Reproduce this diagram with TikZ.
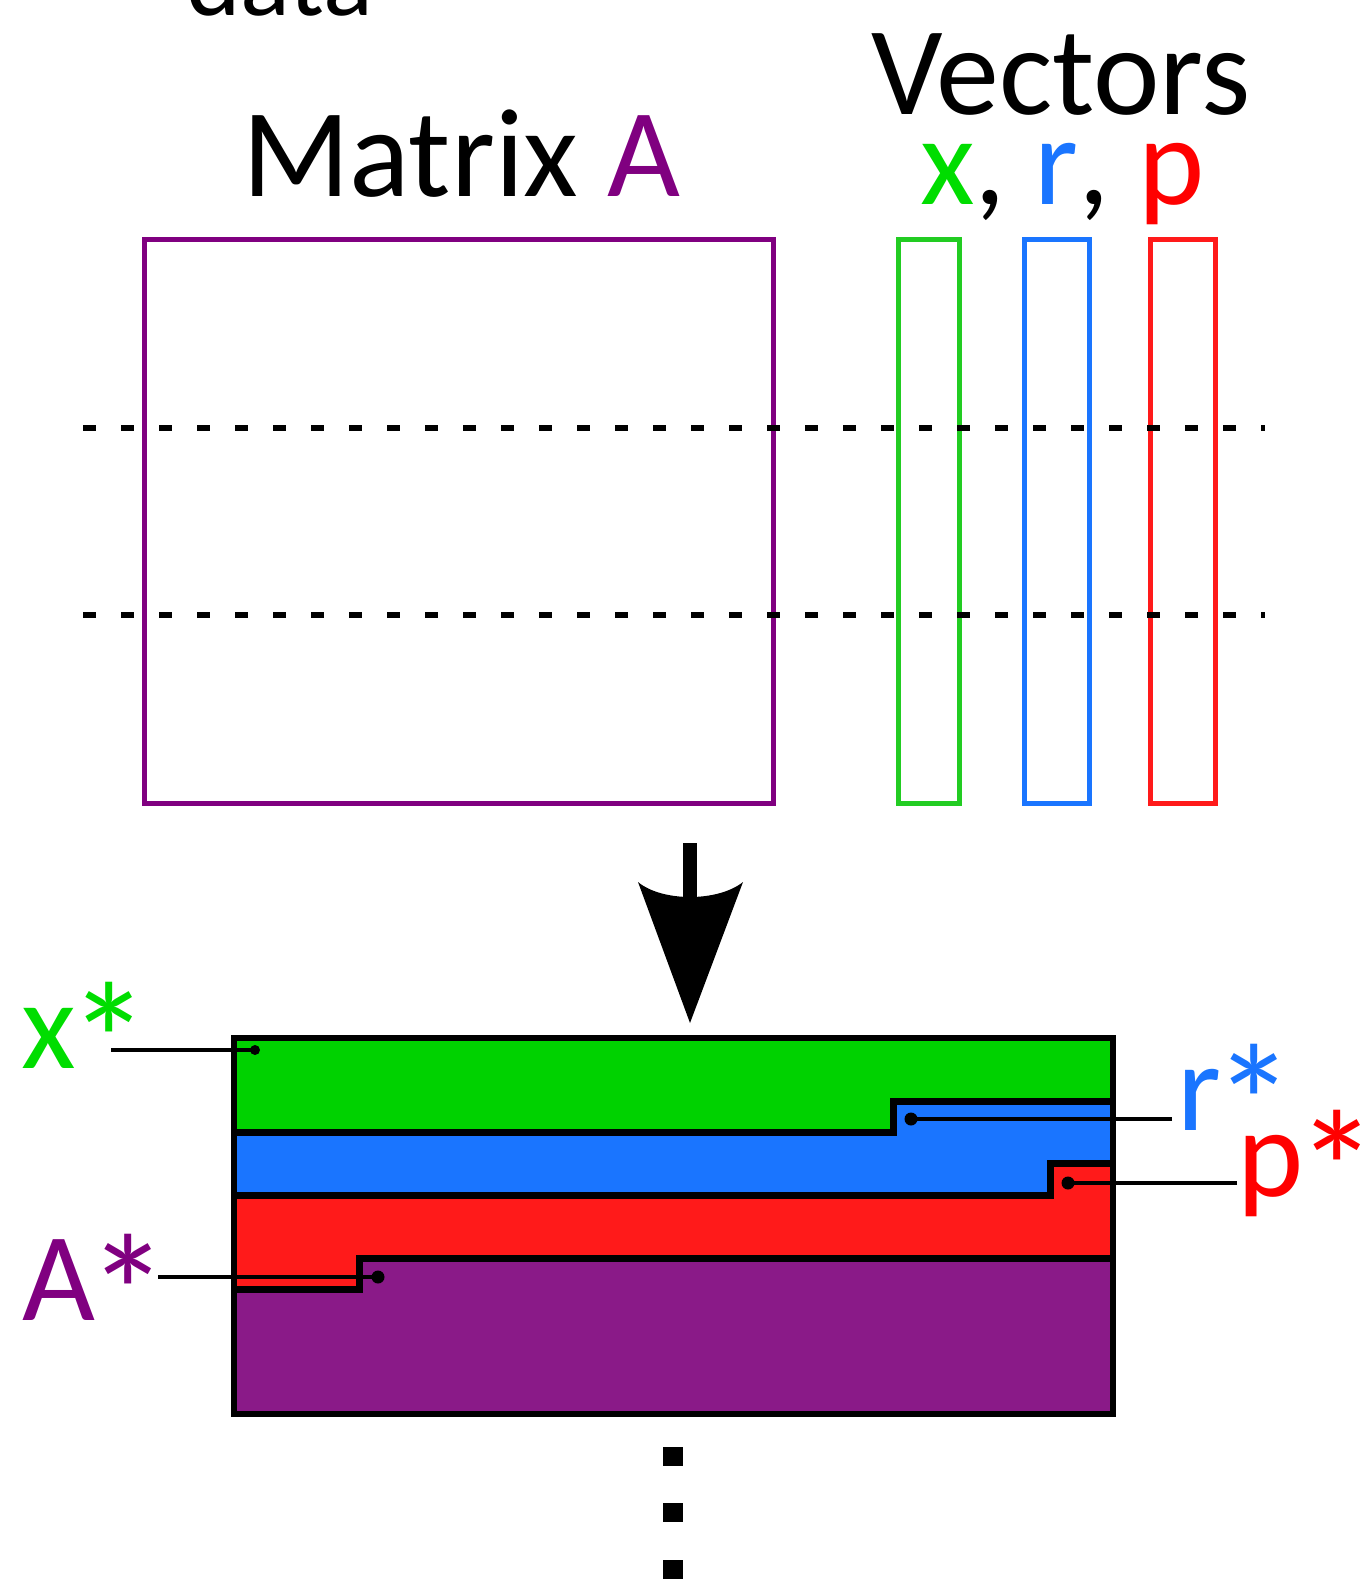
\documentclass[tikz,border=0pt]{standalone}
\usepackage{fontspec}
\usepackage{graphicx}
\setmainfont{Carlito}
\definecolor{mpurple}{HTML}{800080}
\definecolor{fpurple}{HTML}{8A1A88}
\definecolor{tgreen}{HTML}{00DD00}
\definecolor{bgreen}{HTML}{22CC22}
\definecolor{fgreen}{HTML}{00D200}
\definecolor{vblue}{HTML}{1A75FF}
\definecolor{tred}{HTML}{FF0000}
\definecolor{vred}{HTML}{FF1A1A}
\newcommand{\bigast}{\kern-3.5pt\raisebox{-15pt}{\scalebox{1.3}{*}}}
\begin{document}
\begin{tikzpicture}[x=0.5pt,y=-0.5pt,
  lbl/.style={inner sep=0pt, outer sep=0pt, anchor=base west, font=\fontsize{63pt}{72pt}\selectfont},
  vbox/.style={line width=2.5pt},
  sepline/.style={line width=3.5pt, line join=miter},
  lead/.style={line width=2pt},
  dashline/.style={line width=2.8pt, dash pattern=on 6.5pt off 12.5pt}
]
\useasboundingbox (0,0) rectangle (1361,1579);
% top texts
\node[lbl, font=\fontsize{52pt}{60pt}\selectfont] (data) at (186,15) {data};
\node[lbl] (vectors) at (871,114) {Vectors};
\node[lbl] (matrix) at (242,196) {Matrix \textcolor{mpurple}{A}};
\node[lbl] (xrp) at (920,204) {\textcolor{tgreen}{x}, \textcolor{vblue}{r}, \textcolor{tred}{p}};
% boxes
\draw[vbox, mpurple] (144,239) rectangle (773,803);
\draw[vbox, bgreen] (898,239) rectangle (959,803);
\draw[vbox, vblue] (1024,239) rectangle (1089,803);
\draw[vbox, vred] (1150,239) rectangle (1215,803);
% dashed lines
\draw[dashline] (83,428) -- (1265,428);
\draw[dashline] (83,615) -- (1265,615);
% arrow
\coordinate (arrtop) at (690,843);
\coordinate (arrtip) at (690,1023);
\fill (683,843) rectangle (697,900);
\fill (638,882) .. controls (662,902) and (718,902) .. (743,882) -- (arrtip) -- cycle;
% bottom layers
\fill[fgreen] (234,1038) -- (1113,1038) -- (1113,1101) -- (893,1101) -- (893,1132) -- (234,1132) -- cycle;
\fill[vblue] (234,1132) -- (893,1132) -- (893,1101) -- (1113,1101) -- (1113,1163) -- (1050,1163) -- (1050,1195) -- (234,1195) -- cycle;
\fill[vred] (234,1195) -- (1050,1195) -- (1050,1163) -- (1113,1163) -- (1113,1258) -- (359,1258) -- (359,1289) -- (234,1289) -- cycle;
\fill[fpurple] (234,1289) -- (359,1289) -- (359,1258) -- (1113,1258) -- (1113,1414) -- (234,1414) -- cycle;
\draw[sepline] (234,1132) -- (893,1132) -- (893,1101) -- (1113,1101);
\draw[sepline] (234,1195) -- (1050,1195) -- (1050,1163) -- (1113,1163);
\draw[sepline] (234,1289) -- (359,1289) -- (359,1258) -- (1113,1258);
\draw[line width=3pt] (234,1038) rectangle (1113,1414);
% labels
\node[lbl, text=tgreen] (xs) at (21,1068) {x\bigast};
\node[lbl, text=mpurple] (as) at (22,1320) {A\bigast};
\node[lbl, text=vblue] (rs) at (1177,1130) {r\bigast};
\node[lbl, text=tred] (ps) at (1237,1196) {p\bigast};
% leaders
\coordinate (xsl) at (111,1050);
\coordinate (xsd) at (255,1050);
\coordinate (asl) at (158,1277);
\coordinate (asd) at (378,1277);
\coordinate (rsl) at (1172,1119);
\coordinate (rsd) at (911,1119);
\coordinate (psl) at (1237,1183);
\coordinate (psd) at (1068,1183);
\draw[lead] (xsl) -- (xsd);
\fill (xsd) circle (5);
\draw[lead] (asl) -- (asd);
\fill (asd) circle (6.5);
\draw[lead] (rsl) -- (rsd);
\fill (rsd) circle (6.5);
\draw[lead] (psl) -- (psd);
\fill (psd) circle (6.5);
% vertical dots
\fill (663,1447) rectangle (683,1466);
\fill (663,1503) rectangle (683,1522);
\fill (663,1560) rectangle (683,1579);
\end{tikzpicture}
\end{document}
